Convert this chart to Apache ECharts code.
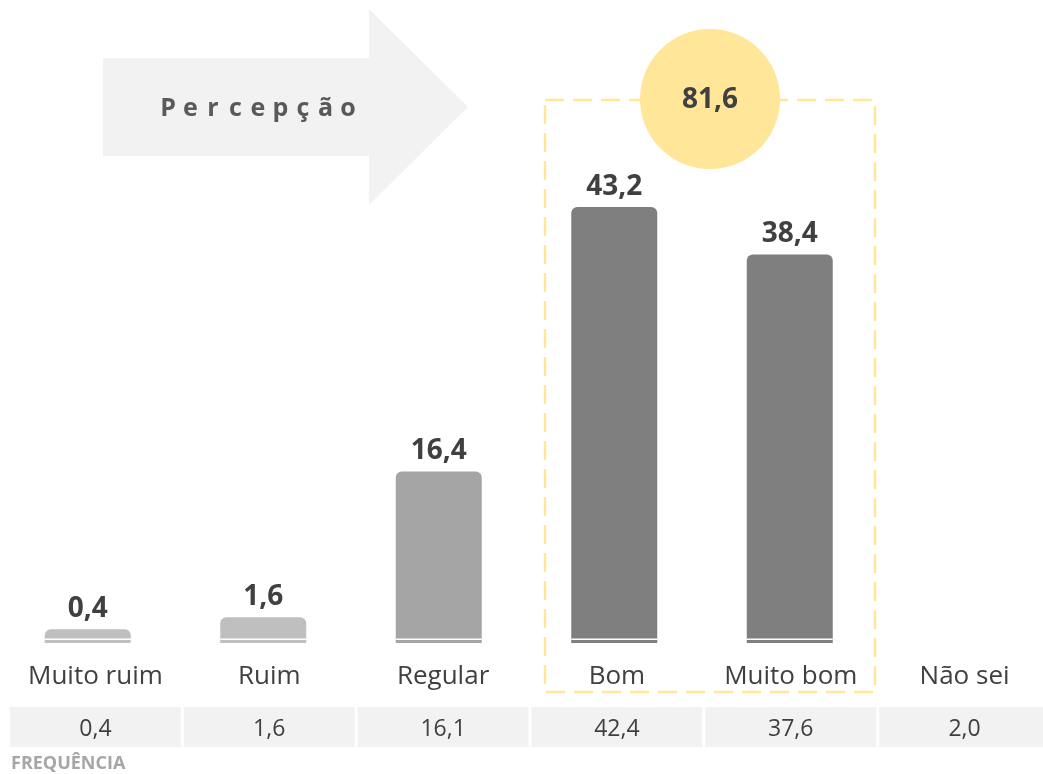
<!DOCTYPE html>
<html>
<head>
<meta charset="utf-8">
<script src="https://cdn.jsdelivr.net/npm/echarts@6/dist/echarts.min.js"></script>
<style>
  html, body { margin: 0; padding: 0; background: #fff; overflow: hidden; }
  /* a última coluna passa um pouco da borda direita, como no original */
  #main { width: 1060px; height: 774px; }
</style>
</head>
<body>
<div id="main"></div>
<script>
    // dados
    var categorias = ['Muito ruim', 'Ruim', 'Regular', 'Bom', 'Muito bom', 'Não sei'];
    var percepcao = [0.4, 1.6, 16.4, 43.2, 38.4, null];
    var frequencia = [0.4, 1.6, 16.1, 42.4, 37.6, 2.0];
    var totalPositivo = 81.6;   // Bom + Muito bom

    var corBarras = ['#bfbfbf', '#bfbfbf', '#a5a5a5', '#7f7f7f', '#7f7f7f', '#7f7f7f'];
    var fonte = '"Open Sans", sans-serif';

    function fmt(v) {
        return v.toFixed(1).replace('.', ',');
    }

    // letras espaçadas do título da seta
    var tituloSeta = 'Percepção'.split('').map(function (c) { return '{l|' + c + '}'; }).join('');

    var myChart = echarts.init(document.getElementById('main'));

    var option = {
        animation: false,
        grid: [
            { left: 0, width: 1053, top: 140, bottom: 131 },
            { left: 8.5, width: 1043, top: 707, height: 40 }
        ],
        xAxis: [
            {
                type: 'category',
                gridIndex: 0,
                data: categorias,
                axisLine: { show: false },
                axisTick: { show: false },
                axisLabel: { show: false }
            },
            {
                // nomes das categorias alinhados com as células da tabela
                type: 'category',
                gridIndex: 1,
                position: 'top',
                data: categorias,
                axisLine: { show: false },
                axisTick: { show: false },
                axisLabel: { interval: 0, margin: 17, fontSize: 26, color: '#404040', fontFamily: fonte }
            }
        ],
        yAxis: [
            { type: 'value', gridIndex: 0, min: -1, max: 50, show: false },
            { type: 'value', gridIndex: 1, min: 0, max: 1, show: false }
        ],
        graphic: [
            // seta "Percepção"
            {
                type: 'polygon',
                shape: { points: [[103, 58], [369, 58], [369, 9], [468, 107], [369, 205], [369, 156], [103, 156]] },
                style: { fill: '#f2f2f2' },
                z: 0
            },
            {
                type: 'text',
                x: 258, y: 109,
                style: {
                    text: tituloSeta,
                    align: 'center',
                    verticalAlign: 'middle',
                    rich: {
                        l: {
                            width: 22.5,
                            align: 'center',
                            fontSize: 25,
                            fontWeight: 'bold',
                            fontFamily: fonte,
                            fill: '#595959'
                        }
                    }
                }
            },
            // caixa tracejada
            {
                type: 'rect',
                shape: { x: 545, y: 100, width: 330, height: 592 },
                style: { fill: 'none', stroke: '#ffe699', lineWidth: 2.5, lineDash: [19, 9] },
                z: 1
            },
            {
                type: 'circle',
                shape: { cx: 710, cy: 99, r: 70 },
                style: { fill: '#ffe699' },
                z: 2
            },
            {
                type: 'text',
                x: 710, y: 100,
                style: {
                    text: fmt(totalPositivo),
                    font: 'bold 28px ' + fonte,
                    fill: '#404040',
                    align: 'center',
                    verticalAlign: 'middle'
                },
                z: 3
            },
            {
                type: 'text',
                x: 11, y: 764,
                style: {
                    text: 'FREQUÊNCIA',
                    font: 'bold 18px ' + fonte,
                    fill: '#a6a6a6',
                    verticalAlign: 'middle'
                }
            }
        ],
        series: [
            {
                name: 'Percepção',
                type: 'custom',
                xAxisIndex: 0,
                yAxisIndex: 0,
                data: percepcao.map(function (v, i) { return [i, v]; }),
                renderItem: function (params, api) {
                    var v = api.value(1);
                    if (v == null || isNaN(v)) return;
                    var topo = api.coord([api.value(0), v]);
                    var base = api.coord([api.value(0), -1]);
                    var w = 86;
                    return {
                        type: 'group',
                        children: [
                            {
                                type: 'rect',
                                shape: { x: topo[0] - w / 2, y: topo[1], width: w, height: base[1] - topo[1], r: [6, 6, 0, 0] },
                                style: { fill: corBarras[params.dataIndex] }
                            },
                            {
                                type: 'rect',
                                shape: { x: topo[0] - w / 2, y: base[1] - 4.5, width: w, height: 1.5 },
                                style: { fill: '#fff' }
                            },
                            {
                                type: 'text',
                                style: {
                                    text: fmt(v),
                                    x: topo[0], y: topo[1] - 6,
                                    align: 'center',
                                    verticalAlign: 'bottom',
                                    font: 'bold 28px ' + fonte,
                                    fill: '#404040'
                                }
                            }
                        ]
                    };
                }
            },
            {
                name: 'Frequência',
                type: 'custom',
                xAxisIndex: 1,
                yAxisIndex: 1,
                data: frequencia.map(function (v, i) { return [i, v]; }),
                renderItem: function (params, api) {
                    var p1 = api.coord([api.value(0), 1]);
                    var p0 = api.coord([api.value(0), 0]);
                    var bw = api.size([1, 0])[0];
                    return {
                        type: 'group',
                        children: [
                            {
                                type: 'rect',
                                shape: { x: p1[0] - bw / 2 + 1.5, y: p1[1], width: bw - 3, height: p0[1] - p1[1] },
                                style: { fill: '#f2f2f2' }
                            },
                            {
                                type: 'text',
                                style: {
                                    text: fmt(api.value(1)),
                                    x: p1[0], y: (p0[1] + p1[1]) / 2 + 2,
                                    align: 'center',
                                    verticalAlign: 'middle',
                                    font: '23px ' + fonte,
                                    fill: '#404040'
                                }
                            }
                        ]
                    };
                }
            }
        ]
    };
    myChart.setOption(option);
</script>
</body>
</html>
